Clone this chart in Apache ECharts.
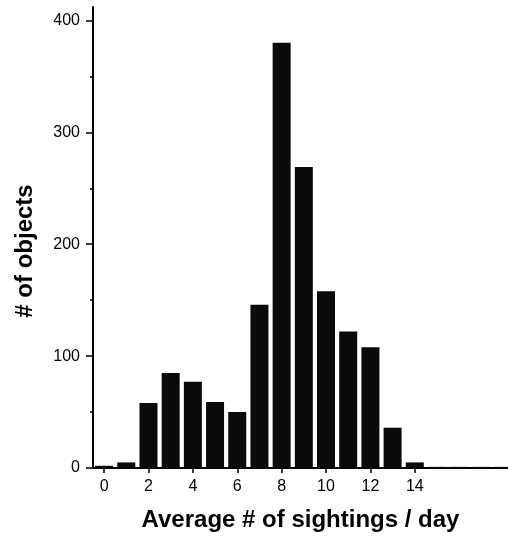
<!DOCTYPE html>
<html><head><meta charset="utf-8">
<script src="https://cdn.jsdelivr.net/npm/echarts@6/dist/echarts.min.js"></script>
<style>html,body{margin:0;padding:0;background:#fff}#c{width:508px;height:540px}</style>
</head><body><div id="c"></div>
<script>
const sightings = [0,1,2,3,4,5,6,7,8,9,10,11,12,13,14,15,16,17,18];
const objects = [2,5,58,85,77,59,50,146,380,269,158,122,108,36,5,1,1,1,1];
const xTicks = [0,2,4,6,8,10,12,14];
const yTicks = [0,100,200,300,400];
const yMinorTicks = [50,150,250,350];

const chart = echarts.init(document.getElementById('c'));
const font = 'Liberation Sans';
chart.setOption({
  animation:false,
  backgroundColor:'#fff',
  grid:{left:93,right:0,top:7,bottom:72},
  xAxis:{
    type:'value', min:-0.5, max:18.2,
    name:'Average # of sightings / day', nameLocation:'middle', nameGap:40,
    nameTextStyle:{fontFamily:font,fontWeight:'bold',fontSize:24,color:'#000'},
    axisLine:{show:true,onZero:false,lineStyle:{color:'#000',width:2}},
    axisTick:{show:true,length:5,lineStyle:{color:'#000',width:1.5},customValues:xTicks},
    axisLabel:{fontFamily:font,fontSize:16,color:'#000',margin:11,customValues:xTicks},
    splitLine:{show:false}
  },
  yAxis:[{
    type:'value', min:0, max:412,
    name:'# of objects', nameLocation:'middle', nameGap:56, nameRotate:90,
    nameTextStyle:{fontFamily:font,fontWeight:'bold',fontSize:24,color:'#000',padding:[0,0,0,-27]},
    axisLine:{show:true,onZero:false,lineStyle:{color:'#000',width:2}},
    axisTick:{show:true,length:7,lineStyle:{color:'#000',width:1.5},customValues:yTicks},
    axisLabel:{fontFamily:font,fontSize:16,color:'#000',margin:13,customValues:yTicks},
    splitLine:{show:false}
  },{
    type:'value', min:0, max:412, position:'left',
    axisLine:{show:false,onZero:false},
    axisTick:{show:true,length:3,lineStyle:{color:'#000',width:1.5},customValues:yMinorTicks},
    axisLabel:{show:false},
    splitLine:{show:false}
  }],
  series:[{
    type:'bar', barWidth:18,
    itemStyle:{color:'#0a0a0a'},
    data: sightings.map((s,i)=>[s,objects[i]])
  }]
});
</script></body></html>
